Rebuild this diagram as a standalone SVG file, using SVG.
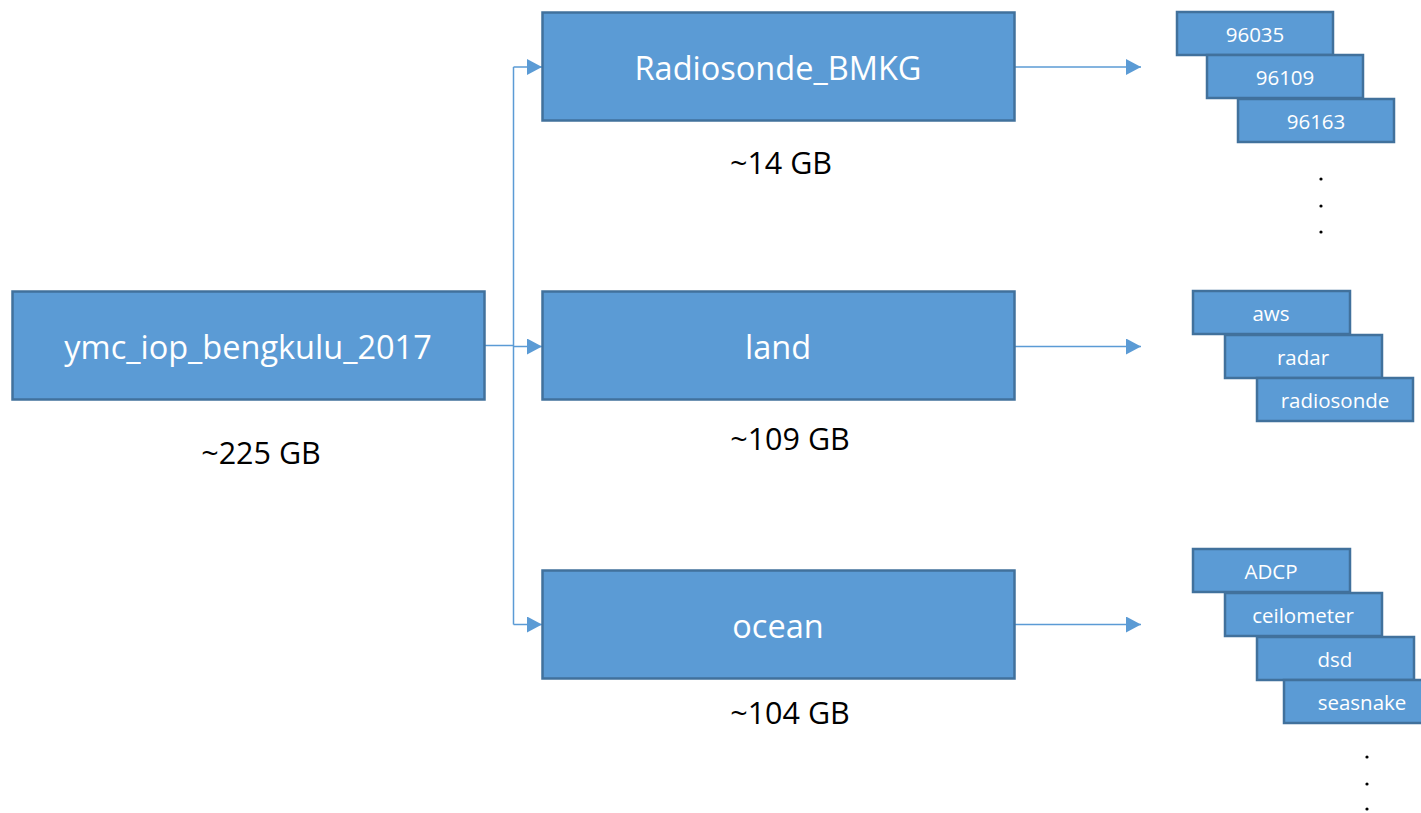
<svg xmlns="http://www.w3.org/2000/svg" width="1421" height="813" viewBox="0 0 1421 813">
<defs>
<style>
.box{fill:#5B9BD5;stroke:#41719C;stroke-width:2.5}
.t{font-family:"Open Sans","Liberation Sans",sans-serif;fill:#fff;text-anchor:middle;dominant-baseline:central}
.big{font-size:32.5px}
.sm{font-size:20.5px}
.lbl{font-family:"Open Sans","Liberation Sans",sans-serif;fill:#000;font-size:30.5px;text-anchor:middle;dominant-baseline:central}
.c{fill:none;stroke:#5B9BD5;stroke-width:1.5}
.dot{fill:#000}
</style>
<marker id="ah" markerUnits="userSpaceOnUse" markerWidth="16" markerHeight="16" refX="15" refY="8" orient="auto">
<path d="M0,0 L15,8 L0,16 Z" fill="#5B9BD5"/>
</marker>
</defs>
<rect width="1421" height="813" fill="#fff"/>
<g id="connectors">
<path class="c" d="M485,345.5 H513.5"/>
<path class="c" d="M513.5,67 V624.5"/>
<path class="c" d="M513.5,67 H542" marker-end="url(#ah)"/>
<path class="c" d="M513.5,346.5 H542" marker-end="url(#ah)"/>
<path class="c" d="M513.5,624.5 H542" marker-end="url(#ah)"/>
<path class="c" d="M1015,67 H1141" marker-end="url(#ah)"/>
<path class="c" d="M1015,346.5 H1141" marker-end="url(#ah)"/>
<path class="c" d="M1015,624.5 H1141" marker-end="url(#ah)"/>
</g>
<g id="root"><rect class="box" x="12.5" y="291.5" width="472" height="108"/><text class="t big" x="248" y="346">ymc_iop_bengkulu_2017</text></g>
<g id="root-size"><text class="lbl" x="261" y="452">~225 GB</text></g>
<g id="radiosonde_bmkg"><rect class="box" x="542.5" y="12.5" width="472" height="108"/><text class="t big" x="778" y="67">Radiosonde_BMKG</text></g>
<g id="radiosonde_bmkg-size"><text class="lbl" x="781" y="162">~14 GB</text></g>
<g id="land"><rect class="box" x="542.5" y="291.5" width="472" height="108"/><text class="t big" x="778" y="346">land</text></g>
<g id="land-size"><text class="lbl" x="790" y="438">~109 GB</text></g>
<g id="ocean"><rect class="box" x="542.5" y="570.5" width="472" height="108"/><text class="t big" x="778" y="625">ocean</text></g>
<g id="ocean-size"><text class="lbl" x="790" y="712">~104 GB</text></g>
<g id="s96035"><rect class="box" x="1177" y="12" width="156" height="43"/><text class="t sm" x="1255" y="34">96035</text></g>
<g id="s96109"><rect class="box" x="1207" y="55" width="156" height="43"/><text class="t sm" x="1285" y="77">96109</text></g>
<g id="s96163"><rect class="box" x="1238" y="99" width="156" height="43"/><text class="t sm" x="1316" y="121">96163</text></g>
<g id="dots1"><circle class="dot" cx="1321" cy="179" r="1.6"/><circle class="dot" cx="1321" cy="206" r="1.6"/><circle class="dot" cx="1321" cy="232" r="1.6"/></g>
<g id="aws"><rect class="box" x="1193" y="291" width="157" height="43"/><text class="t sm" x="1271" y="313">aws</text></g>
<g id="radar"><rect class="box" x="1225" y="335" width="157" height="43"/><text class="t sm" x="1303" y="357">radar</text></g>
<g id="radiosonde"><rect class="box" x="1257" y="378" width="156" height="43"/><text class="t sm" x="1335" y="400">radiosonde</text></g>
<g id="adcp"><rect class="box" x="1193" y="549" width="157" height="43"/><text class="t sm" x="1271" y="571">ADCP</text></g>
<g id="ceilometer"><rect class="box" x="1225" y="593" width="157" height="43"/><text class="t sm" x="1303" y="615">ceilometer</text></g>
<g id="dsd"><rect class="box" x="1257" y="637" width="157" height="43"/><text class="t sm" x="1335" y="659">dsd</text></g>
<g id="seasnake"><rect class="box" x="1284" y="680" width="157" height="43"/><text class="t sm" x="1362" y="702">seasnake</text></g>
<g id="dots2"><circle class="dot" cx="1367" cy="757" r="1.6"/><circle class="dot" cx="1367" cy="784" r="1.6"/><circle class="dot" cx="1367" cy="809" r="1.6"/></g>
</svg>
